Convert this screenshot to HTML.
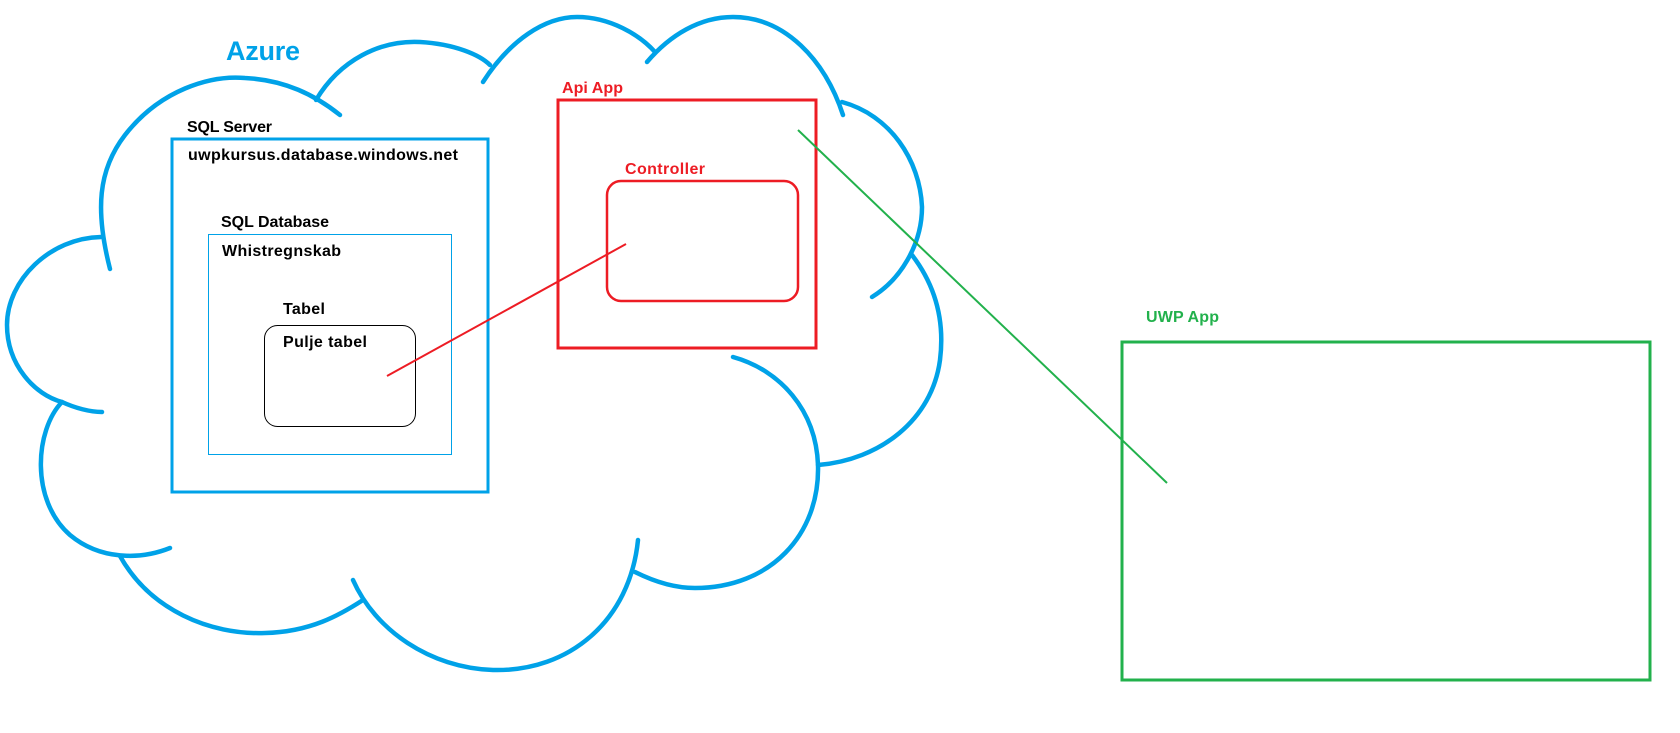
<!DOCTYPE html>
<html><head><meta charset="utf-8"><style>
html,body{margin:0;padding:0;background:#fff;}
svg{display:block;}
text{font-family:"Liberation Sans",sans-serif;font-weight:bold;}
</style></head><body>
<svg width="1680" height="733" viewBox="0 0 1680 733" xmlns="http://www.w3.org/2000/svg">
<rect width="1680" height="733" fill="#fff"/>
<g fill="none" stroke="#00a2e8" stroke-width="4.5" stroke-linecap="round">
<path d="M110,269 C95,210 98,170 125,135 C160,90 210,75 245,78 C285,80 315,95 340,115"/>
<path d="M316,100 C340,60 380,40 420,42 C455,44 480,55 490,65"/>
<path d="M483,82 C510,40 545,17 577,17 C610,17 640,35 655,52"/>
<path d="M647,62 C670,35 700,17 733,17 C785,17 825,60 843,115"/>
<path d="M842,102 C890,115 920,160 922,207 C922,245 900,280 872,297"/>
<path d="M912,255 C935,285 945,320 940,360 C932,420 880,460 818,465"/>
<path d="M733,357 C780,370 816,410 818,465 C820,535 770,588 695,588 C675,588 655,582 635,572"/>
<path d="M638,540 C630,620 570,672 493,670 C430,668 375,630 353,580"/>
<path d="M120,556 C150,610 210,635 265,633 C310,632 340,615 363,600"/>
<path d="M62,402 C35,430 30,500 70,535 C100,560 140,560 170,548"/>
<path d="M101,237 C50,238 7,280 7,325 C7,365 35,395 62,402 C75,408 90,412 102,412"/>
</g>
<text x="226" y="60" font-size="27" fill="#00a2e8" textLength="74">Azure</text>
<rect x="172" y="139" width="316" height="353" fill="none" stroke="#00a2e8" stroke-width="3"/>
<text x="187" y="132" font-size="16" fill="#000" textLength="85">SQL Server</text>
<text x="188" y="160" font-size="16" fill="#000" textLength="270">uwpkursus.database.windows.net</text>
<rect x="208.5" y="234.5" width="243" height="220" fill="none" stroke="#00a2e8" stroke-width="1"/>
<text x="221" y="227" font-size="16" fill="#000" textLength="108">SQL Database</text>
<text x="222" y="256" font-size="16" fill="#000" textLength="119">Whistregnskab</text>
<rect x="264.5" y="325.5" width="151" height="101" rx="13" fill="none" stroke="#000" stroke-width="1"/>
<text x="283" y="314" font-size="16" fill="#000" textLength="42">Tabel</text>
<text x="283" y="347" font-size="16" fill="#000" textLength="84">Pulje tabel</text>
<rect x="558" y="100" width="258" height="248" fill="none" stroke="#ed1c24" stroke-width="3"/>
<text x="562" y="93" font-size="16" fill="#ed1c24" textLength="61">Api App</text>
<rect x="607" y="181" width="191" height="120" rx="14" fill="none" stroke="#ed1c24" stroke-width="2.5"/>
<text x="625" y="174" font-size="16" fill="#ed1c24" textLength="80">Controller</text>
<line x1="387" y1="376" x2="626" y2="244" stroke="#ed1c24" stroke-width="2"/>
<rect x="1122" y="342" width="528" height="338" fill="none" stroke="#22b14c" stroke-width="3"/>
<text x="1146" y="322" font-size="16" fill="#22b14c" textLength="73">UWP App</text>
<line x1="798" y1="130" x2="1167" y2="483" stroke="#22b14c" stroke-width="2"/>
</svg>
</body></html>
